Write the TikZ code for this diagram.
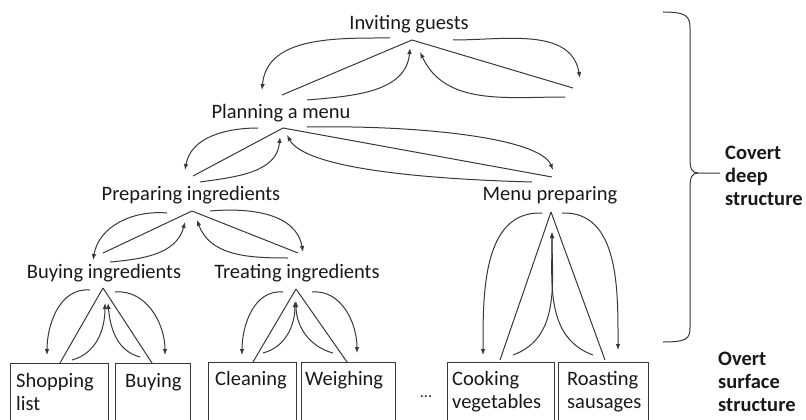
\documentclass[tikz,border=0pt]{standalone}
\usepackage{fontspec}
\setmainfont{Carlito}
\usetikzlibrary{arrows.meta}
\begin{document}
\begin{tikzpicture}[x=1pt,y=-1pt,
  every node/.style={inner sep=0pt, text=black!90, font=\fontsize{20.5}{23}\selectfont},
  lbl/.style={anchor=base},
  link/.style={draw=black!78, line width=1pt},
  arr/.style={link, -{Latex[length=6pt,width=4.6pt]}},
  box/.style={draw=black!78, line width=1pt, anchor=north west, minimum height=80pt},
  boxtxt/.style={anchor=base west, align=left, text width=110pt},
  side/.style={anchor=base west, align=left, text width=85pt, font=\fontsize{20.5}{23}\selectfont\bfseries},
]
\useasboundingbox (0,0) rectangle (806,420);

% ---- text labels
\node[lbl] (ig) at (409,30) {Inviting guests};
\node[lbl] (pm) at (281,118) {Planning a menu};
\node[lbl] (pi) at (191,200) {Preparing ingredients};
\node[lbl] (bi) at (104,278) {Buying ingredients};
\node[lbl] (ti) at (297,278) {Treating ingredients};
\node[lbl] (mp) at (550,200) {Menu preparing};

% ---- boxes
\node[box, minimum width=98pt] (b1) at (10,363) {};
\node[box, minimum width=75pt] (b2) at (115,363) {};
\node[box, minimum width=88pt] (b3) at (208,362) {};
\node[box, minimum width=94pt] (b4) at (301,362) {};
\node[box, minimum width=107pt] (b5) at (447,362) {};
\node[box, minimum width=90pt] (b6) at (558,362) {};
\node[boxtxt] (t1) at (16,387) {Shopping\\list};
\node[boxtxt] (t2) at (125,387) {Buying};
\node[boxtxt] (t3) at (215,385) {Cleaning};
\node[boxtxt] (t4) at (305,385) {Weighing};
\node[boxtxt] (t5) at (452,385) {Cooking\\vegetables};
\node[boxtxt] (t6) at (567,385) {Roasting\\sausages};
\node[anchor=base, font=\fontsize{16}{16}\selectfont] (dots) at (426,397) {...};

% ---- side labels
\node[side] (cov) at (725,159) {Covert\\deep\\structure};
\node[side] (ovt) at (718,365) {Overt\\surface\\structure};

% ---- level 0: Inviting guests
\path (412,40) coordinate (a0)
  (390,38) coordinate (a0w) (453,40) coordinate (a0e)
  (410,48) coordinate (a0u) (420,52) coordinate (a0v)
  (262,90) coordinate (c0in) (282,95) coordinate (c0up) (307,100) coordinate (c0rt)
  (580,78) coordinate (d0in) (573,88) coordinate (d0up) (565,97) coordinate (d0rt);
\draw[arr] (a0w) to[out=180,in=85] (c0in);
\draw[link] (a0) -- (c0up);
\draw[arr] (c0rt) to[out=5,in=-95] (a0u);
\draw[arr] (d0rt) to[out=180,in=-65] (a0v);
\draw[link] (a0) -- (d0up);
\draw[arr] (a0e) to[out=0,in=100] (d0in);

% ---- level 1: Planning a menu
\path (283,128) coordinate (a1)
  (258,128) coordinate (a1w) (307,127) coordinate (a1e)
  (280,137) coordinate (a1u) (287,135) coordinate (a1v)
  (185,170) coordinate (c1in) (193,176) coordinate (c1up) (200,182) coordinate (c1rt)
  (553,170) coordinate (d1in) (552,177) coordinate (d1up) (532,182) coordinate (d1rt);
\draw[arr] (a1w) to[out=180,in=80] (c1in);
\draw[link] (a1) -- (c1up);
\draw[arr] (c1rt) to[out=8,in=-95] (a1u);
\draw[arr] (d1rt) .. controls (420,179) and (305,168) .. (a1v);
\draw[link] (a1) -- (d1up);
\draw[arr] (a1e) .. controls (420,125) and (540,138) .. (d1in);

% ---- level 2: Preparing ingredients
\path (192,211) coordinate (a2)
  (167,213) coordinate (a2w) (210,211) coordinate (a2e)
  (185,222) coordinate (a2u) (197,220) coordinate (a2v)
  (93,260) coordinate (c2in) (103,253) coordinate (c2up) (110,262) coordinate (c2rt)
  (303,252) coordinate (d2in) (298,253) coordinate (d2up) (288,258) coordinate (d2rt);
\draw[arr] (a2w) to[out=175,in=80] (c2in);
\draw[link] (a2) -- (c2up);
\draw[arr] (c2rt) to[out=5,in=-105] (a2u);
\draw[arr] (d2rt) to[out=180,in=-70] (a2v);
\draw[link] (a2) -- (d2up);
\draw[arr] (a2e) to[out=5,in=100] (d2in);

% ---- level 3: Buying ingredients
\path (103,288) coordinate (a3)
  (90,290) coordinate (a3w) (115,292) coordinate (a3e)
  (105,303) coordinate (a3u) (108,303) coordinate (a3v)
  (47,355) coordinate (c3in) (60,363) coordinate (c3up) (72,360) coordinate (c3rt)
  (165,355) coordinate (d3in) (152,363) coordinate (d3up) (140,357) coordinate (d3rt);
\draw[arr] (a3w) to[out=175,in=90] (c3in);
\draw[link] (a3) -- (c3up);
\draw[arr] (c3rt) to[out=15,in=-90] (a3u);
\draw[arr] (d3rt) to[out=165,in=-85] (a3v);
\draw[link] (a3) -- (d3up);
\draw[arr] (a3e) to[out=5,in=90] (d3in);

% ---- level 3: Treating ingredients
\path (296,289) coordinate (a4)
  (283,292) coordinate (a4w) (312,292) coordinate (a4e)
  (295,301) coordinate (a4u) (296,301) coordinate (a4v)
  (242,355) coordinate (c4in) (253,362) coordinate (c4up) (263,353) coordinate (c4rt)
  (357,353) coordinate (d4in) (347,362) coordinate (d4up) (333,353) coordinate (d4rt);
\draw[arr] (a4w) to[out=175,in=90] (c4in);
\draw[link] (a4) -- (c4up);
\draw[arr] (c4rt) to[out=15,in=-90] (a4u);
\draw[arr] (d4rt) to[out=165,in=-90] (a4v);
\draw[link] (a4) -- (d4up);
\draw[arr] (a4e) to[out=5,in=90] (d4in);

% ---- level 3: Menu preparing
\path (551,212) coordinate (a5)
  (542,213) coordinate (a5w) (562,213) coordinate (a5e)
  (552,232) coordinate (a5u)
  (483,355) coordinate (c5in) (500,360) coordinate (c5up) (513,355) coordinate (c5rt)
  (618,350) coordinate (d5in) (605,360) coordinate (d5up) (593,355) coordinate (d5rt);
\draw[arr] (a5w) to[out=178,in=90] (c5in);
\draw[link] (a5) -- (c5up);
\draw[arr] (c5rt) to[out=20,in=-90] (a5u);
\draw[arr] (d5rt) to[out=160,in=-90] (a5u);
\draw[link] (a5) -- (d5up);
\draw[arr] (a5e) to[out=2,in=90] (d5in);

% ---- brace
\draw[link] (663,12) .. controls (686,12) and (690,16) .. (690,28) -- (690,158)
  .. controls (690,169) and (692,173) .. (698,173) -- (720,173);
\draw[link] (698,173) .. controls (692,173) and (690,177) .. (690,188) -- (690,328)
  .. controls (690,339) and (686,342) .. (663,342);
\end{tikzpicture}
\end{document}
